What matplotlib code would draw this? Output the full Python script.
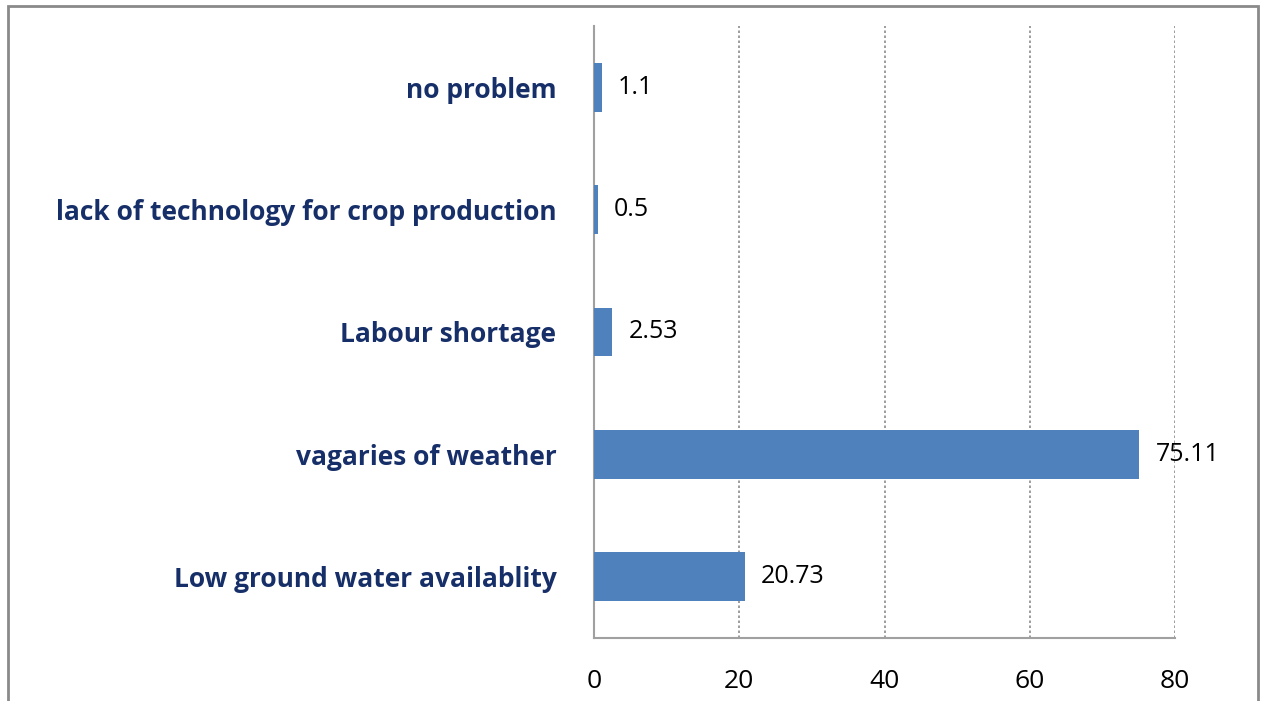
import matplotlib.pyplot as plt
from matplotlib.patches import Rectangle

categories = ["Low ground water availablity", "vagaries of weather",
              "Labour shortage", "lack of technology for crop production",
              "no problem"]
values = [20.73, 75.11, 2.53, 0.5, 1.1]
value_labels = ["20.73", "75.11", "2.53", "0.5", "1.1"]
xticks = [0, 20, 40, 60, 80]

plt.rcParams['font.family'] = ['Open Sans', 'DejaVu Sans']

fig = plt.figure(figsize=(12.62, 7.01), dpi=100)
ax = fig.add_axes([594 / 1262, 1 - 638 / 701, (1175 - 594) / 1262, (638 - 26) / 701])

ypos = list(range(len(categories)))
ax.barh(ypos, values, height=0.4, color='#4F81BD', zorder=3)

for y, v, lab in zip(ypos, values, value_labels):
    ax.text(v + 2.2, y, lab, va='center', ha='left', fontsize=18, color='black', zorder=4)

ax.set_xlim(0, 80)
ax.set_ylim(-0.5, len(categories) - 0.5)
ax.set_xticks(xticks)
ax.set_xticklabels([str(t) for t in xticks], fontsize=19)
ax.set_yticks(ypos)
ax.set_yticklabels(categories, fontsize=19, fontweight='bold', color='#172F68')
ax.tick_params(axis='y', length=0, pad=27)
ax.tick_params(axis='x', length=0, pad=22)

ax.xaxis.grid(True, linestyle=(0, (1.5, 1.5)), color='#8C8C8C', linewidth=1.2, zorder=0)
ax.set_axisbelow(True)
for s in ['top', 'right']:
    ax.spines[s].set_visible(False)
ax.spines['left'].set_color('#A0A0A0')
ax.spines['bottom'].set_color('#A0A0A0')
ax.spines['left'].set_linewidth(1.5)
ax.spines['bottom'].set_linewidth(1.5)

# outer border of the chart area
fig.patches.append(Rectangle((8 / 1262, -0.05), (1258 - 8) / 1262, 1.05 - 6 / 701,
                             transform=fig.transFigure, fill=False,
                             edgecolor='#8A8A8A', linewidth=2))

fig.savefig('out.png', dpi=100)
